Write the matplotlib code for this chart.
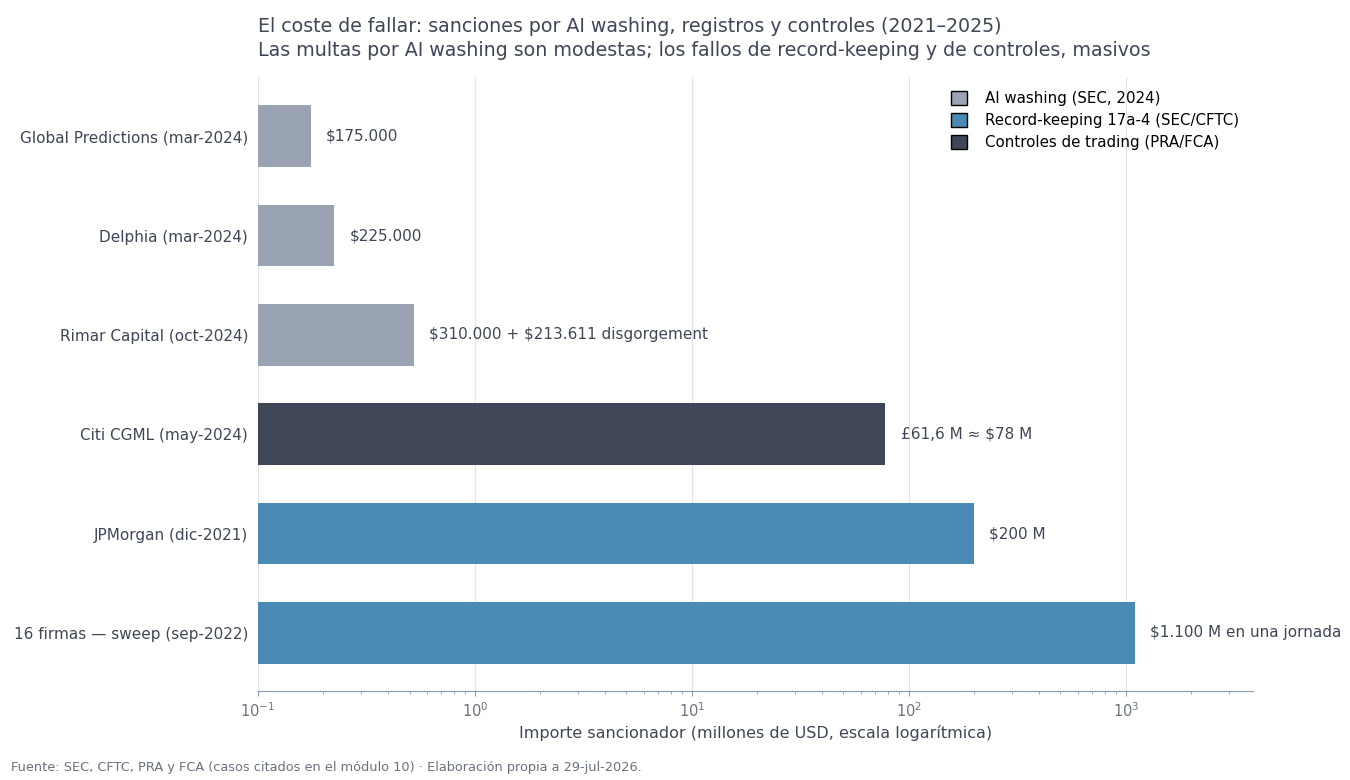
import numpy as np
import matplotlib.pyplot as plt
from matplotlib.patches import Patch

plt.rcParams['font.family'] = ['DejaVu Sans']

# datos (millones de USD)
labels = ['Global Predictions (mar-2024)', 'Delphia (mar-2024)', 'Rimar Capital (oct-2024)',
          'Citi CGML (may-2024)', 'JPMorgan (dic-2021)', '16 firmas — sweep (sep-2022)']
values = [0.175, 0.225, 0.523611, 78, 200, 1100]
groups = ['ai', 'ai', 'ai', 'ctrl', 'rk', 'rk']
value_text = [r'\$175.000', r'\$225.000', r'\$310.000 + \$213.611 disgorgement',
              '£61,6 M ≈ \\$78 M', r'\$200 M', r'\$1.100 M en una jornada']

colors = {'ai': '#9aa3b2', 'rk': '#4a8ab5', 'ctrl': '#3f4656'}
names = {'ai': 'AI washing (SEC, 2024)', 'rk': 'Record-keeping 17a-4 (SEC/CFTC)',
         'ctrl': 'Controles de trading (PRA/FCA)'}
txt = '#3f4656'

fig = plt.figure(figsize=(13.5, 7.8), dpi=100)
ax = fig.add_axes([0.191, 0.114, 0.737, 0.787])

y = np.arange(len(labels))[::-1]
xmin = 0.1
ax.barh(y, np.array(values) - xmin, left=xmin, height=0.62,
        color=[colors[g] for g in groups], zorder=3)
ax.set_xscale('log')
ax.set_xlim(0.1, 3850)
ax.set_ylim(-0.586, 5.594)
ax.set_yticks(y)
ax.set_yticklabels(labels, fontsize=11, color=txt)

for yi, v, t in zip(y, values, value_text):
    ax.annotate(t, (v, yi), xytext=(11, 0), textcoords='offset points',
                va='center', ha='left', fontsize=11, color=txt)

ax.grid(axis='x', which='major', color='#dfe2e7', linewidth=0.9, zorder=0)
for s in ['top', 'right']:
    ax.spines[s].set_visible(False)
ax.spines['left'].set_color('#dfe2e7')
ax.spines['bottom'].set_color('#8a9aae')
ax.tick_params(axis='y', length=0, pad=7)
ax.tick_params(axis='x', which='both', colors='#8a9aae', labelcolor='#6b7280', labelsize=10.5)
ax.set_xlabel('Importe sancionador (millones de USD, escala logarítmica)', fontsize=11.5, color=txt)

handles = [Patch(facecolor=colors[k], edgecolor='black', label=names[k]) for k in ['ai', 'rk', 'ctrl']]
ax.legend(handles=handles, loc='upper right', frameon=False, fontsize=10.8,
          bbox_to_anchor=(1.0, 1.0), handlelength=1.1, handleheight=1.1, handletextpad=1.2,
          labelspacing=0.45)

fig.text(0.191, 0.959, 'El coste de fallar: sanciones por AI washing, registros y controles (2021–2025)',
         fontsize=13.7, color=txt, ha='left')
fig.text(0.191, 0.928, 'Las multas por AI washing son modestas; los fallos de record-keeping y de controles, masivos',
         fontsize=13.7, color=txt, ha='left')
fig.text(0.008, 0.012, 'Fuente: SEC, CFTC, PRA y FCA (casos citados en el módulo 10) · Elaboración propia a 29-jul-2026.',
         fontsize=9.3, color='#6b7280', ha='left')

fig.savefig('out.png', dpi=100)
